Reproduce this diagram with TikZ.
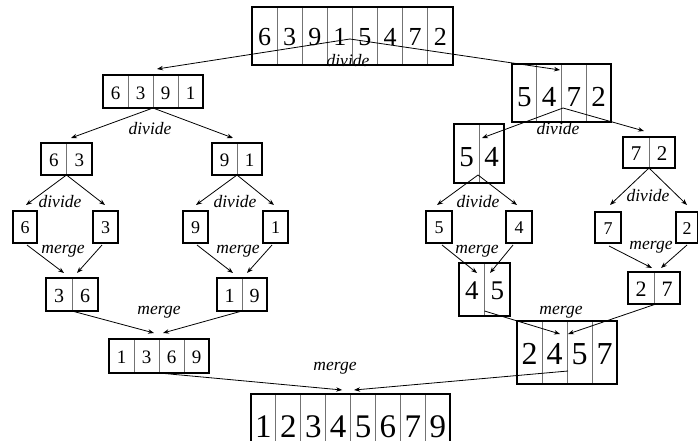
\documentclass[tikz,border=0pt]{standalone}
\usepackage{fontspec}
\setmainfont{Liberation Serif}
\usetikzlibrary{arrows.meta,calc}
\tikzset{
  cbox/.style={draw, line width=2.2pt, inner sep=0pt, outer sep=0pt},
  divider/.style={draw=black!55, line width=0.9pt},
  digit/.style={inner sep=0pt, outer sep=0pt},
  arr/.style={line width=0.8pt, -{Stealth[length=6pt,width=4.5pt]}},
  lbl/.style={font=\fontsize{17.5}{17.5}\selectfont\itshape, inner sep=0pt},
}
% #1 name, #2 left, #3 top, #4 cell width, #5 height, #6 font size, #7 text offset, #8 digits
\newcommand\cellbox[8]{%
  \foreach \d [count=\i] in {#8} {\xdef\cbcount{\i}}%
  \pgfmathsetmacro\cbw{#4*\cbcount}%
  \foreach \d [count=\i] in {#8} {%
    \node[digit, font=\fontsize{#6}{#6}\selectfont] at ({#2+(\i-0.5)*#4},{#3+#5/2+#7}) {\d};
    \ifnum\i<\cbcount\relax \draw[divider] ({#2+\i*#4},#3) -- ++(0,#5);\fi
  }%
  \node[cbox, anchor=north west, minimum width=\cbw pt, minimum height=#5 pt] (#1) at (#2,#3) {};
}
\begin{document}
\begin{tikzpicture}[x=1pt,y=-1pt]
\useasboundingbox (0,0) rectangle (698,441);
% boxes
\cellbox{top}{252}{7}{25.1}{58}{26}{1}{6,3,9,1,5,4,7,2}
\cellbox{b6391}{103}{75}{25}{33}{19}{1.5}{6,3,9,1}
\cellbox{b5472}{512}{64}{24.75}{58}{29}{4}{5,4,7,2}
\cellbox{b63}{41}{143}{25.5}{32}{19}{1.5}{6,3}
\cellbox{b91}{212}{143}{25}{32}{19}{1.5}{9,1}
\cellbox{b54}{454}{124}{25}{59}{29}{3.5}{5,4}
\cellbox{b72}{623}{137}{26}{31}{21}{1}{7,2}
\cellbox{b6}{13}{211}{24}{32}{18}{1}{6}
\cellbox{b3}{93}{211}{25}{32}{18}{1}{3}
\cellbox{b9}{183}{211}{25}{32}{18}{1}{9}
\cellbox{b1}{263}{211}{25}{32}{18}{1}{1}
\cellbox{b5}{426}{211}{26}{32}{18}{1}{5}
\cellbox{b4}{506}{211}{26}{32}{18}{1}{4}
\cellbox{b7}{595}{212}{26}{31}{18}{1}{7}
\cellbox{b2}{676}{212}{22}{31}{18}{1}{2}
\cellbox{b36}{46}{278}{26}{33}{20}{1}{3,6}
\cellbox{b19}{217}{278}{25}{33}{20}{1}{1,9}
\cellbox{b45}{459}{263}{25.5}{53}{27}{1.5}{4,5}
\cellbox{b27}{628}{272}{26}{32}{22}{1}{2,7}
\cellbox{b1369}{109}{339}{25}{34}{19}{1}{1,3,6,9}
\cellbox{b2457}{517}{321}{25}{63}{32}{1.5}{2,4,5,7}
\cellbox{bottom}{251}{394}{24.9}{63}{33}{1}{1,2,3,4,5,6,7,9}
% connectors
\draw[arr] ($(top.center)+(-2.5,3)$) -- ($(b6391.north)+(4,-6)$);
\draw[arr] ($(top.center)+(-2.5,3)$) -- ($(b5472.north)+(-1.5,6)$);
\draw[arr] (b6391.south) -- ($(b63.north)+(4.5,-5)$);
\draw[arr] (b6391.south) -- ($(b91.north)+(-4,-5)$);
\draw[arr] ($(b5472.south)+(1.5,-14)$) -- ($(b54.north)+(3,14)$);
\draw[arr] ($(b5472.south)+(1.5,-14)$) -- ($(b72.north)+(-5,-6)$);
\draw[arr] (b63.south) -- ($(b6.north)+(1,-6)$);
\draw[arr] (b63.south) -- ($(b3.north)+(-0.5,-6)$);
\draw[arr] (b91.south) -- ($(b9.north)+(0.5,-6)$);
\draw[arr] (b91.south) -- ($(b1.north)+(-1.5,-6)$);
\draw[arr] ($(b54.south)+(-1,-8)$) -- ($(b5.north)+(-2,-6)$);
\draw[arr] ($(b54.south)+(-1,-8)$) -- ($(b4.north)+(-2,-6)$);
\draw[arr] (b72.south) -- ($(b7.north)+(2,-7)$);
\draw[arr] (b72.south) -- ($(b2.north)+(0,-7)$);
\draw[arr] ($(b6.south)+(2,2)$) -- ($(b36.north)+(-8,-5)$);
\draw[arr] ($(b3.south)+(-3.5,2)$) -- ($(b36.north)+(5,-5)$);
\draw[arr] ($(b9.south)+(1.5,2)$) -- ($(b19.north)+(-9,-5)$);
\draw[arr] ($(b1.south)+(-3.5,2)$) -- ($(b19.north)+(5,-5)$);
\draw[arr] ($(b5.south)+(3,2)$) -- ($(b45.north)+(-7.5,10)$);
\draw[arr] ($(b4.south)+(-6,2)$) -- ($(b45.north)+(5.5,10)$);
\draw[arr] ($(b7.south)+(1,3)$) -- ($(b27.north)+(-2,-4)$);
\draw[arr] ($(b2.south)+(0,2)$) -- ($(b27.north)+(7,-4)$);
\draw[arr] (b36.south) -- ($(b1369.north)+(-5,-6)$);
\draw[arr] (b19.south) -- ($(b1369.north)+(4,-6)$);
\draw[arr] ($(b45.south)+(0,-5)$) -- ($(b2457.north)+(-7,13)$);
\draw[arr] ($(b27.south)+(2,0)$) -- ($(b2457.north)+(1,13)$);
\draw[arr] (b1369.south) -- ($(bottom.north)+(-8.5,-4)$);
\draw[arr] ($(b2457.south)+(1,-13)$) -- ($(bottom.north)+(3.5,-4)$);
% labels
\node[lbl] (l1) at (348,61) {divide};
\node[lbl] (l2) at (150,129) {divide};
\node[lbl] (l3) at (558,129) {divide};
\node[lbl] (l4) at (60,202) {divide};
\node[lbl] (l5) at (235,202) {divide};
\node[lbl] (l6) at (478,202) {divide};
\node[lbl] (l7) at (648,196) {divide};
\node[lbl] (l8) at (63,251) {merge};
\node[lbl] (l9) at (238,251) {merge};
\node[lbl] (l10) at (477,251) {merge};
\node[lbl] (l11) at (651,247) {merge};
\node[lbl] (l12) at (159,312) {merge};
\node[lbl] (l13) at (561,312) {merge};
\node[lbl] (l14) at (335,368) {merge};
\end{tikzpicture}
\end{document}
